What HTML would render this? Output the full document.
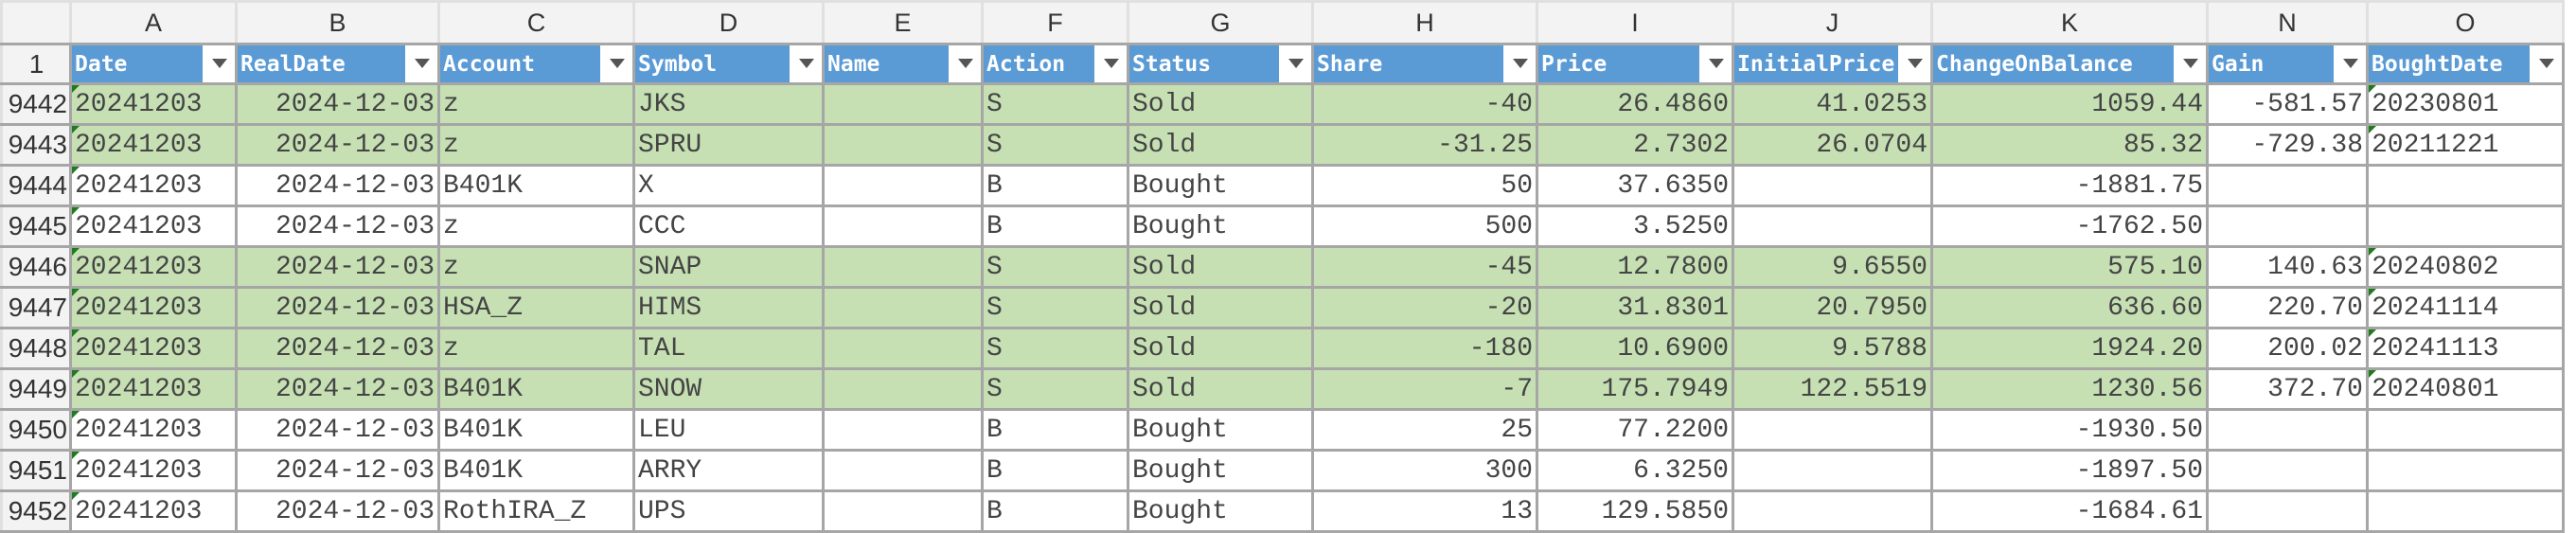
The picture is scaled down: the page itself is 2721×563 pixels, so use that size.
<!DOCTYPE html>
<html><head><meta charset="utf-8">
<style>
html,body{margin:0;padding:0;width:2721px;height:559px;overflow:hidden;background:#fff;}
#grid{position:absolute;left:0;top:0;border-collapse:collapse;table-layout:fixed;font-family:"Liberation Mono",monospace;}
#grid td{border:3px solid #a6a6a6;padding:0 3px;white-space:nowrap;overflow:hidden;font-size:28px;color:#444;position:relative;box-sizing:border-box;}
#grid tr.letters td{height:45px;background:#f3f3f3;border-color:#e0e0e0 #e0e0e0 #a6a6a6 #e0e0e0;text-align:center;font-family:"Liberation Sans",sans-serif;font-size:27px;color:#333;}
#grid tr.hdr td{height:42px;background:#5b9bd5;color:#fff;font-family:"DejaVu Sans Mono",monospace;font-weight:bold;font-size:23px;padding-left:3px;}
#grid tr.data td{height:43px;}
#grid td.rh{background:#f3f3f3;text-align:right;font-family:"Liberation Sans",sans-serif;font-size:28px;color:#333;padding:0 2px 0 0;border-color:#a6a6a6 #a6a6a6 #a6a6a6 #e0e0e0;}
#grid tr.hdr td.rh{background:#f3f3f3;color:#333;font-weight:normal;font-family:"Liberation Sans",sans-serif;font-size:28px;text-align:center;}
td.g{background:#c6e0b4;}
td.r{text-align:right;}
.dd{position:absolute;right:0;top:0;width:34px;height:100%;background:#fff;}
.dd:after{content:"";position:absolute;left:10px;top:14px;border-left:8px solid transparent;border-right:8px solid transparent;border-top:10px solid #555;}
.tri{position:absolute;left:0;top:0;width:0;height:0;border-top:8px solid #1e7b1e;border-right:8px solid transparent;}
</style></head><body>
<table id="grid">
<colgroup><col style="width:73px"><col style="width:175px"><col style="width:214px"><col style="width:206px"><col style="width:200px"><col style="width:168px"><col style="width:154px"><col style="width:195px"><col style="width:237px"><col style="width:207px"><col style="width:210px"><col style="width:291px"><col style="width:169px"><col style="width:207px"></colgroup>
<tbody id="body"></tbody>
</table>
<script>
const letters=["","A","B","C","D","E","F","G","H","I","J","K","N","O"];
const headers=["Date","RealDate","Account","Symbol","Name","Action","Status","Share","Price","InitialPrice","ChangeOnBalance","Gain","BoughtDate"];
const rowNums=[9442,9443,9444,9445,9446,9447,9448,9449,9450,9451,9452];
const accounts=["z","z","B401K","z","z","HSA_Z","z","B401K","B401K","B401K","RothIRA_Z"];
const symbols=["JKS","SPRU","X","CCC","SNAP","HIMS","TAL","SNOW","LEU","ARRY","UPS"];
const actions=["S","S","B","B","S","S","S","S","B","B","B"];
const shares=["-40","-31.25","50","500","-45","-20","-180","-7","25","300","13"];
const prices=["26.4860","2.7302","37.6350","3.5250","12.7800","31.8301","10.6900","175.7949","77.2200","6.3250","129.5850"];
const initPrices=["41.0253","26.0704","","","9.6550","20.7950","9.5788","122.5519","","",""];
const changes=["1059.44","85.32","-1881.75","-1762.50","575.10","636.60","1924.20","1230.56","-1930.50","-1897.50","-1684.61"];
const gains=["-581.57","-729.38","","","140.63","220.70","200.02","372.70","","",""];
const boughtDates=["20230801","20211221","","","20240802","20241114","20241113","20240801","","",""];
const body=document.getElementById('body');
let tr=document.createElement('tr');tr.className='letters';


letters.forEach(l=>{const td=document.createElement('td');td.textContent=l;

tr.appendChild(td);});
body.appendChild(tr);
tr=document.createElement('tr');tr.className='hdr';


let td=document.createElement('td');td.className='rh';td.textContent='1';

tr.appendChild(td);
headers.forEach(h=>{const c=document.createElement('td');c.textContent=h;


const d=document.createElement('span');d.className='dd';


c.appendChild(d);tr.appendChild(c);});
body.appendChild(tr);
rowNums.forEach((n,i)=>{
 const r=document.createElement('tr');r.className='data';
 
 
 const sold=actions[i]==='S';
 const vals=[n,'20241203','2024-12-03',accounts[i],symbols[i],'',actions[i],sold?'Sold':'Bought',shares[i],prices[i],initPrices[i],changes[i],gains[i],boughtDates[i]];
 const right=[0,0,1,0,0,0,0,0,1,1,1,1,1,0];
 vals.forEach((v,j)=>{const c=document.createElement('td');c.textContent=v;
  if(j===0)c.className='rh';
  else{let cls=[];if(sold&&j<=11)cls.push('g');if(right[j])cls.push('r');c.className=cls.join(' ');}
  
  
  if(j===1||(j===13&&v)){const t=document.createElement('span');t.className='tri';
   
   c.appendChild(t);}
  r.appendChild(c);});
 body.appendChild(r);
});
</script>
</body></html>
